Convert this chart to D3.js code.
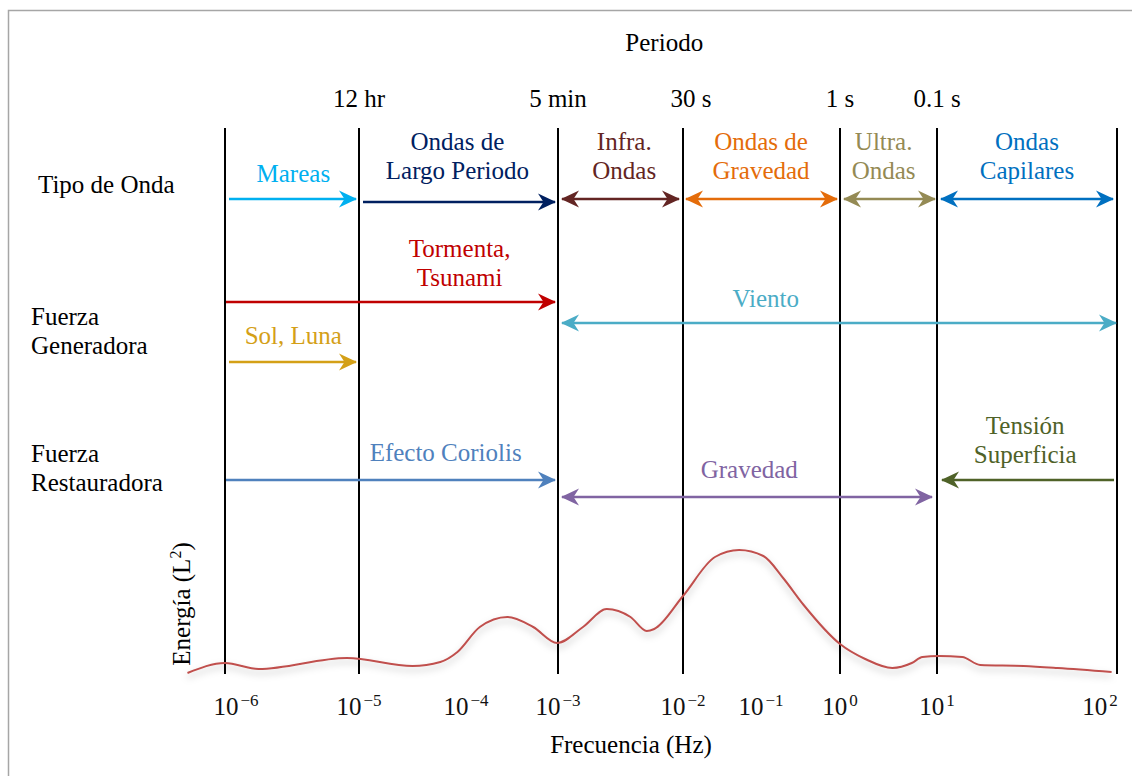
<!DOCTYPE html>
<html>
<head>
<meta charset="utf-8">
<script src="https://cdn.jsdelivr.net/npm/d3@7"></script>
<style>
  html, body { margin: 0; padding: 0; background: #fff; }
  svg { display: block; }
  text { font-family: "Liberation Serif", "Times New Roman", serif; }
</style>
</head>
<body>
<svg id="chart" width="1132" height="776"></svg>
<script>
// ---------------- DATA ----------------
// x axis: log10 of frequency (Hz)
const tickExponents = [-6, -5, -4, -3, -2, -1, 0, 1, 2];
const tickLabels = ["10", "10", "10", "10", "10", "10", "10", "10", "10"];
const tickSupers = ["\u22126", "\u22125", "\u22124", "\u22123", "\u22122", "\u22121", "0", "1", "2"];

// vertical boundaries (log10 Hz) and the period names above them
const boundaries = [-6, -5, -3, -2, 0, 1, 2];
const periodAt = [-5, -3, -2, 0, 1];
const periodLabels = ["12 hr", "5 min", "30 s", "1 s", "0.1 s"];

// row titles
const rowTitles = [["Tipo de Onda"], ["Fuerza", "Generadora"], ["Fuerza", "Restauradora"]];

// ranges (log10 Hz): wave types
const waveNames = [["Mareas"], ["Ondas de", "Largo Periodo"], ["Infra.", "Ondas"], ["Ondas de", "Gravedad"], ["Ultra.", "Ondas"], ["Ondas", "Capilares"]];
const waveFrom = [-6, -5, -3, -2, 0, 1];
const waveTo = [-5, -3, -2, 0, 1, 2];
const waveHeads = ["end", "end", "both", "both", "both", "both"];
const waveColors = ["#00b0f0", "#002060", "#632523", "#e46c0a", "#948a54", "#0070c0"];

// generating forces
const genNames = [["Tormenta,", "Tsunami"], ["Viento"], ["Sol, Luna"]];
const genFrom = [-6, -3, -6];
const genTo = [-3, 2, -5];
const genHeads = ["end", "both", "end"];
const genColors = ["#c00000", "#4bacc6", "#d4a017"];

// restoring forces
const resNames = [["Efecto Coriolis"], ["Gravedad"], ["Tensión", "Superficia"]];
const resFrom = [-6, -3, 1];
const resTo = [-3, 1, 2];
const resHeads = ["end", "both", "start"];
const resColors = ["#4f81bd", "#8064a2", "#4f6228"];

// energy spectrum (schematic), log10 Hz vs energy
const energyLogF = [-6.28, -6.0, -5.75, -5.09, -4.5, -4.24, -4.08, -3.85, -3.55, -3.27, -3.01, -2.8, -2.61, -2.42, -2.29, -2.23, -2.0, -1.59, -1.28, -0.97, -0.72, -0.46, 0.0, 0.26, 0.54, 0.74, 0.85, 1.01, 1.14, 1.24, 1.48, 1.67, 1.97];
const energyVal = [0.08, 0.88, 0.4, 1.28, 0.64, 0.96, 1.76, 3.76, 4.56, 3.76, 2.48, 3.76, 5.2, 4.56, 3.44, 3.6, 6.24, 9.36, 9.92, 9.44, 7.68, 5.52, 2.4, 1.2, 0.48, 0.88, 1.36, 1.44, 1.36, 0.72, 0.64, 0.48, 0.16];

// ---------------- LAYOUT ----------------
const svg = d3.select("#chart");
const x = d3.scaleLinear()
  .domain([-6, -5, -4, -3, -2, -1, 0, 1, 2])
  .range([225, 359, 466, 558, 683, 761, 840, 937, 1117]);
const y = d3.scaleLinear().domain([0, 10]).range([674, 549]);
const axisLeft = 183, lineTop = 128, baseY = y(0);

const defs = svg.append("defs");
const f = defs.append("filter").attr("id", "shadow")
  .attr("x", "-5%").attr("y", "-30%").attr("width", "110%").attr("height", "180%");
f.append("feDropShadow").attr("dx", 0).attr("dy", 4).attr("stdDeviation", 3.5)
  .attr("flood-color", "#000").attr("flood-opacity", 0.25);

// frame
svg.append("path").attr("d", "M8.5,776 L8.5,10.5 L1132,10.5")
  .attr("fill", "none").attr("stroke", "#a6a6a6").attr("stroke-width", 1.5);

// title
svg.append("text").attr("x", x(-2.15)).attr("y", 51).attr("text-anchor", "middle")
  .attr("font-size", 25).text("Periodo");

// period labels
svg.selectAll(".plab").data(periodAt).join("text")
  .attr("x", d => x(d) + (d === -2 ? 8 : 0)).attr("y", 107).attr("text-anchor", "middle")
  .attr("font-size", 25).attr("fill", "#000").text((d, i) => periodLabels[i]);

// vertical boundary lines
svg.selectAll(".vline").data(boundaries).join("line")
  .attr("x1", d => x(d)).attr("x2", d => x(d))
  .attr("y1", lineTop).attr("y2", baseY)
  .attr("stroke", "#000").attr("stroke-width", 2);

// row titles
const titleLayout = [{x: 38, y: [193]}, {x: 31, y: [325, 354]}, {x: 31, y: [462, 491]}];
rowTitles.forEach((lines, r) => {
  lines.forEach((t, k) => {
    svg.append("text").attr("x", titleLayout[r].x).attr("y", titleLayout[r].y[k])
      .attr("font-size", 25).attr("fill", "#000").text(t);
  });
});

// markers
function markerId(color) { return "m" + color.replace("#", ""); }
const allColors = [...waveColors, ...genColors, ...resColors];
allColors.forEach(c => {
  defs.append("marker").attr("id", markerId(c))
    .attr("viewBox", "0 -9 18 18").attr("refX", 17).attr("refY", 0)
    .attr("markerWidth", 18).attr("markerHeight", 18)
    .attr("markerUnits", "userSpaceOnUse").attr("orient", "auto-start-reverse")
    .append("path").attr("d", "M0,-8.5 L18,0 L0,8.5 L5.5,0 Z").attr("fill", c);
});

function drawRow(names, from, to, heads, colors, lay) {
  names.forEach((lines, i) => {
    const L = lay[i];
    const x1 = x(from[i]) + L.p1, x2 = x(to[i]) - L.p2;
    svg.append("line").attr("x1", x1).attr("x2", x2).attr("y1", L.ay).attr("y2", L.ay)
      .attr("stroke", colors[i]).attr("stroke-width", 2.5)
      .attr("marker-end", heads[i] === "end" || heads[i] === "both" ? `url(#${markerId(colors[i])})` : null)
      .attr("marker-start", heads[i] === "start" || heads[i] === "both" ? `url(#${markerId(colors[i])})` : null);
    const cx = x(L.lf);
    const n = lines.length;
    lines.forEach((t, k) => {
      svg.append("text").attr("x", cx).attr("y", L.ly - (n - 1 - k) * 29)
        .attr("text-anchor", "middle").attr("font-size", 25)
        .attr("fill", colors[i]).text(t);
    });
  });
}

drawRow(waveNames, waveFrom, waveTo, waveHeads, waveColors, [
  {ay: 199, p1: 4, p2: 3, lf: -5.49, ly: 182},
  {ay: 202, p1: 4, p2: 3, lf: -4.08, ly: 179},
  {ay: 199, p1: 4, p2: 4, lf: -2.47, ly: 179},
  {ay: 199, p1: 3, p2: 3, lf: -1.0, ly: 179},
  {ay: 199, p1: 4, p2: 2, lf: 0.45, ly: 179},
  {ay: 199, p1: 4, p2: 4, lf: 1.5, ly: 179}
]);
drawRow(genNames, genFrom, genTo, genHeads, genColors, [
  {ay: 302, p1: 1, p2: 3, lf: -4.06, ly: 286},
  {ay: 323, p1: 4, p2: 1, lf: -0.94, ly: 307},
  {ay: 362, p1: 4, p2: 3, lf: -5.49, ly: 344}
]);
drawRow(resNames, resFrom, resTo, resHeads, resColors, [
  {ay: 480, p1: 1, p2: 3, lf: -4.19, ly: 461},
  {ay: 497, p1: 4, p2: 5, lf: -1.15, ly: 478},
  {ay: 480, p1: 5, p2: 3, lf: 1.49, ly: 463}
]);

// energy baseline (axis)
svg.append("line").attr("x1", axisLeft).attr("x2", x(2) + 1).attr("y1", baseY).attr("y2", baseY)
  .attr("stroke", "#1a1a1a").attr("stroke-width", 2.5).attr("filter", "url(#shadow)");

// energy curve
const line = d3.line().x(d => x(d[0])).y(d => y(d[1])).curve(d3.curveMonotoneX);
svg.append("path").datum(energyLogF.map((v, i) => [v, energyVal[i]]))
  .attr("d", line).attr("fill", "none").attr("stroke", "#c0504d")
  .attr("stroke-width", 2).attr("filter", "url(#shadow)");

// tick labels
const ticks = svg.append("g");
tickExponents.forEach((e, i) => {
  const last = i === tickExponents.length - 1, first = i === 0;
  const t = ticks.append("text").attr("y", 715).attr("font-size", 25)
    .attr("x", x(e) + (first ? 11 : last ? -17 : 0)).attr("text-anchor", "middle").attr("fill", "#111");
  t.append("tspan").text(tickLabels[i]);
  t.append("tspan").attr("dy", -9).attr("dx", 2).attr("font-size", 17).text(tickSupers[i]);
});

// axis titles
svg.append("text").attr("x", 631).attr("y", 753).attr("text-anchor", "middle")
  .attr("font-size", 25).text("Frecuencia (Hz)");
const et = svg.append("text").attr("transform", "translate(190,604) rotate(-90)")
  .attr("text-anchor", "middle").attr("font-size", 25);
et.append("tspan").text("Energía (L");
et.append("tspan").attr("dy", -9).attr("font-size", 16).text("2");
et.append("tspan").attr("dy", 9).text(")");
</script>
</body>
</html>
